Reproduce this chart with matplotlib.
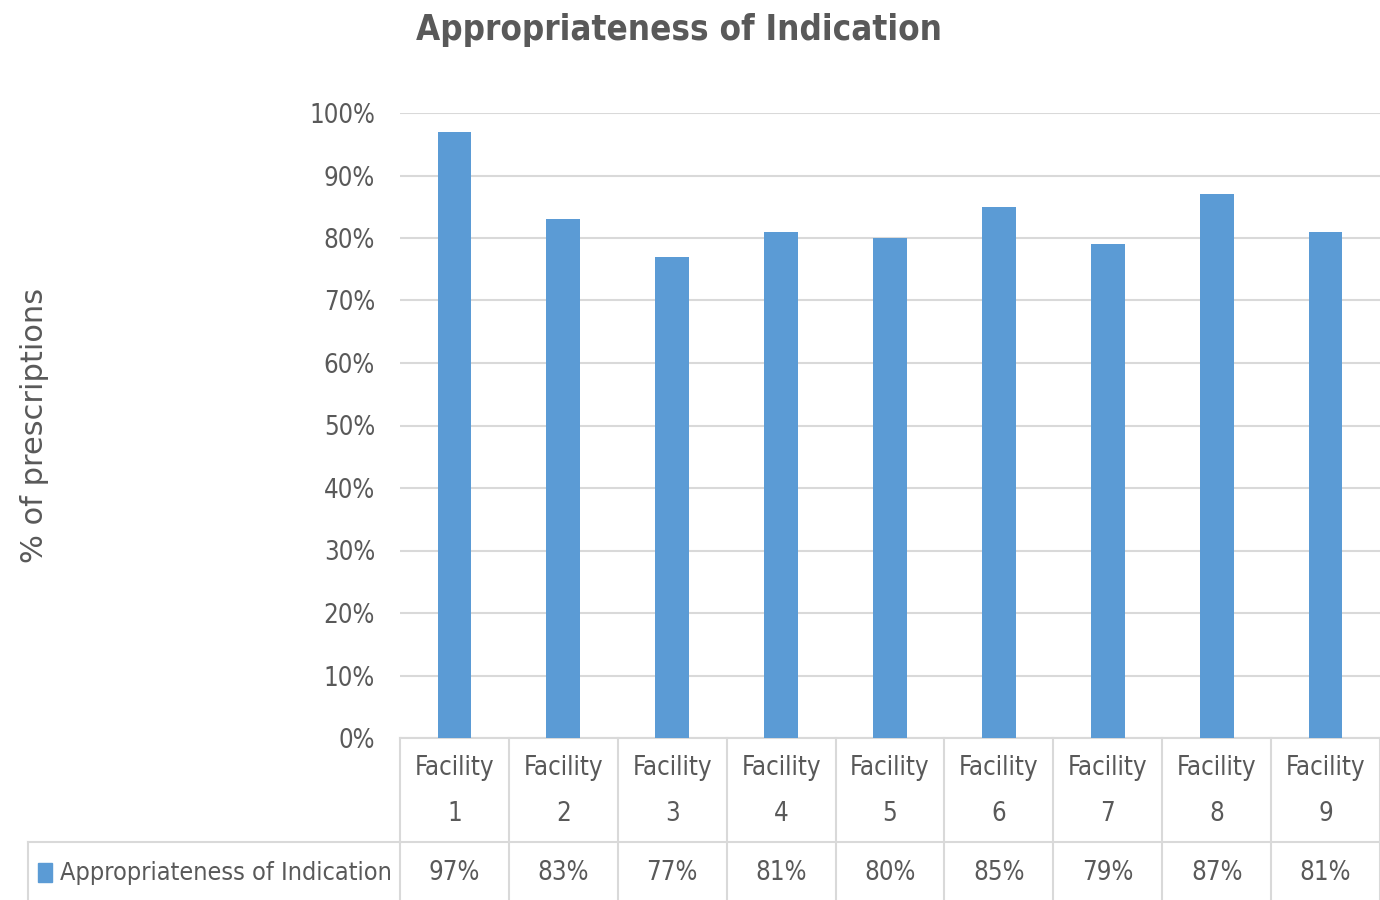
import numpy as np
import matplotlib.pyplot as plt
import matplotlib.transforms as mtransforms
from matplotlib import font_manager

# Datos
facilities = ["Facility\n1", "Facility\n2", "Facility\n3", "Facility\n4", "Facility\n5",
              "Facility\n6", "Facility\n7", "Facility\n8", "Facility\n9"]
values = [0.97, 0.83, 0.77, 0.81, 0.80, 0.85, 0.79, 0.87, 0.81]
value_labels = ["97%", "83%", "77%", "81%", "80%", "85%", "79%", "87%", "81%"]
series_name = "Appropriateness of Indication"
yticks = np.arange(0, 1.01, 0.1)
ytick_labels = ["0%", "10%", "20%", "30%", "40%", "50%", "60%", "70%", "80%", "90%", "100%"]

# Buscar una fuente estrecha instalada
fonts = [(f.name, f.stretch) for f in font_manager.fontManager.ttflist]
family, stretch, scale = "DejaVu Sans", "normal", 0.8
for name, st in [("Liberation Sans Narrow", None), ("DejaVu Sans", "condensed"),
                 ("Open Sans", "condensed"), ("Roboto", "condensed"),
                 ("Noto Sans", "condensed"), ("Lato", None)]:
    ok = [f for f in fonts if f[0] == name and (st is None or f[1] == st)]
    if ok:
        family, stretch = name, (st or "normal")
        scale = 1.0 if name != "Lato" else 0.92
        break
tfont = dict(family=family, stretch=stretch)
size = 18.5 * scale

blue = "#5B9BD5"
gray_txt = "#595959"
grid_col = "#D9D9D9"

fig = plt.figure(figsize=(13.8, 9), dpi=100)
ax = fig.add_axes([400/1380, 1-738/900, 980/1380, (738-113)/900])

x = np.arange(len(values))
ax.bar(x, values, width=0.31, color=blue, zorder=3)
ax.set_xlim(-0.5, len(values)-0.5)
ax.set_ylim(0, 1.0)
ax.set_yticks(yticks)
ax.set_yticklabels(ytick_labels, fontsize=size, color=gray_txt, **tfont)
ax.tick_params(axis="y", length=0, pad=18)
ax.set_xticks([])
ax.grid(axis="y", color=grid_col, linewidth=1.5, zorder=0)
for s in ["top", "right", "left"]:
    ax.spines[s].set_visible(False)
ax.spines["bottom"].set_color(grid_col)
ax.spines["bottom"].set_linewidth(1.5)

fig.text(679/1380, 1-30/900, "Appropriateness of Indication", ha="center", va="center",
         fontsize=25*scale, fontweight="bold", color=gray_txt, **tfont)
fig.text(35/1380, 1-425/900, "% of prescriptions", rotation=90, ha="center", va="center",
         family="DejaVu Sans", fontsize=22, color=gray_txt)

# Tabla de datos debajo del eje
tr = mtransforms.blended_transform_factory(ax.transData, fig.transFigure)
y_top = 1-738/900
y_mid = 1-842/900
y_bot = 0.0
for i in range(len(values)+1):
    xb = i-0.5
    ax.plot([xb, xb], [y_top, y_bot], transform=tr, color=grid_col, lw=1.5, clip_on=False)
ax.plot([-0.5, len(values)-0.5], [y_mid, y_mid], transform=tr, color=grid_col, lw=1.5, clip_on=False)
fig.add_artist(plt.Line2D([28/1380, 400/1380], [y_mid, y_mid], color=grid_col, lw=1.5))
fig.add_artist(plt.Line2D([28/1380, 28/1380], [y_mid, y_bot], color=grid_col, lw=1.5))

for i, (lab, vl) in enumerate(zip(facilities, value_labels)):
    line1, line2 = lab.split("\n")
    ax.text(i, 1-768/900, line1, transform=tr, ha="center", va="center",
            fontsize=size, color=gray_txt, **tfont)
    ax.text(i, 1-814/900, line2, transform=tr, ha="center", va="center",
            fontsize=size, color=gray_txt, **tfont)
    ax.text(i, 1-873/900, vl, transform=tr, ha="center", va="center",
            fontsize=size, color=gray_txt, **tfont)

fig.add_artist(plt.Rectangle((38/1380, 1-882/900), 14/1380, 19/900, color=blue))
fig.text(60/1380, 1-873/900, series_name, ha="left", va="center",
         fontsize=size*0.98, color=gray_txt, **tfont)

plt.savefig("out.png", dpi=100)
